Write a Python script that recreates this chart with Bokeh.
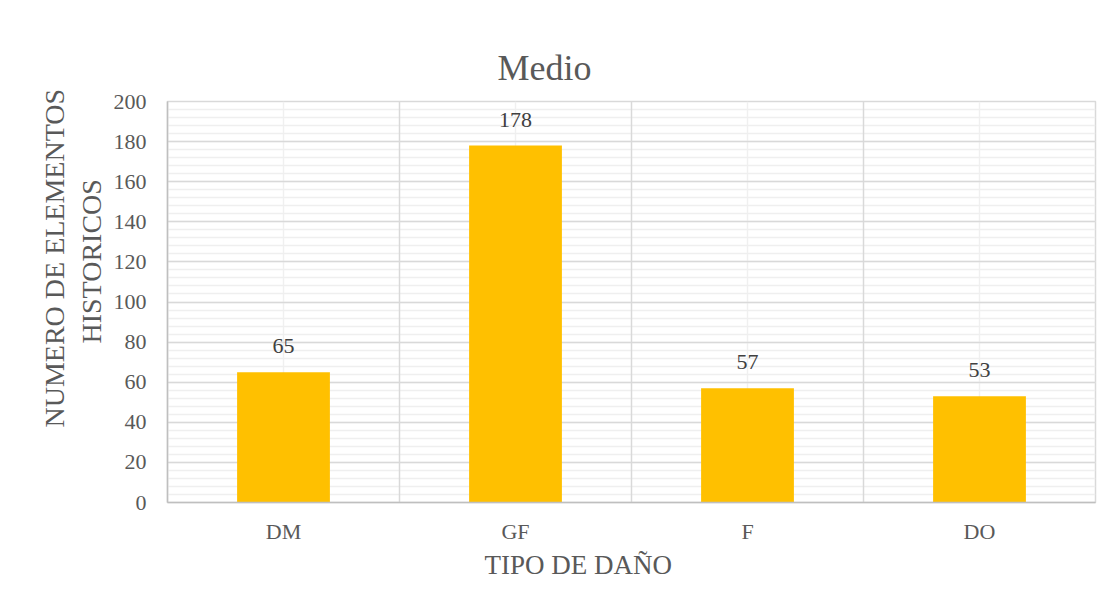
import math
from bokeh.plotting import figure
from bokeh.models import (ColumnDataSource, Title, LabelSet, Grid, FixedTicker,
                          SingleIntervalTicker, Range1d, FactorRange)
from bokeh.core.properties import value
from bokeh.embed import file_html
from bokeh.resources import INLINE

# ---- data ----
categories = ["DM", "GF", "F", "DO"]
counts = [65, 178, 57, 53]
title_text = "Medio"
x_label = "TIPO DE DAÑO"
y_label_lines = ["NUMERO DE ELEMENTOS", "HISTORICOS"]

FONT = "Liberation Serif"
TXT = "#595959"

src = ColumnDataSource(dict(cat=categories, val=counts, lab=[str(v) for v in counts]))

p = figure(x_range=FactorRange(*categories), y_range=Range1d(0, 200),
           width=1105, height=602, output_backend="svg", toolbar_location=None,
           min_border_left=167, min_border_right=10, min_border_top=101, min_border_bottom=100)
p.x_range.range_padding = 0
p.background_fill_color = "white"
p.border_fill_color = "white"
p.outline_line_color = "#d9d9d9"
p.outline_line_width = 1.5

p.vbar(x="cat", top="val", width=0.4, source=src, color="#FFC000", line_color=None)

# axes
p.yaxis.ticker = SingleIntervalTicker(interval=20, num_minor_ticks=5)
for ax in (p.xaxis[0], p.yaxis[0]):
    ax.major_tick_line_color = None
    ax.minor_tick_line_color = None
    ax.major_label_text_font = FONT
    ax.major_label_text_font_size = "22px"
    ax.major_label_text_color = TXT
    ax.axis_line_color = "#bfbfbf"
    ax.axis_line_width = 1.5
p.yaxis.major_label_standoff = 15
p.xaxis.major_label_standoff = 10

# grids
p.ygrid.grid_line_color = "#d9d9d9"
p.ygrid.grid_line_width = 1.5
p.ygrid.minor_grid_line_color = "#efefef"
p.ygrid.minor_grid_line_width = 1.5
p.xgrid.grid_line_color = "#f0f0f0"
p.xgrid.grid_line_width = 1.5
p.add_layout(Grid(dimension=0, ticker=FixedTicker(ticks=list(range(len(categories) + 1))),
                  grid_line_color="#d9d9d9", grid_line_width=1.5))

# data labels
p.add_layout(LabelSet(x="cat", y="val", text="lab", source=src, y_offset=19,
                      text_align="center", text_baseline="alphabetic",
                      text_font=value(FONT), text_font_size=value("22px"), text_color=value("#404040")))

# title & axis titles
p.title = Title(text=title_text, align="left", offset=330, standoff=28,
                text_font=FONT, text_font_size="36px", text_color=TXT, text_font_style="normal")
p.add_layout(Title(text=x_label, align="left", offset=317, standoff=3,
                   text_font=FONT, text_font_size="27px", text_color=TXT,
                   text_font_style="normal"), "below")
for line, off, so in reversed(list(zip(y_label_lines, [75, 159], [2, 7]))):
    p.add_layout(Title(text=line, align="left", offset=off, standoff=so,
                       text_font=FONT, text_font_size="28px", text_color=TXT,
                       text_font_style="normal"), "left")

open("out.html", "w").write(file_html(p, INLINE))
